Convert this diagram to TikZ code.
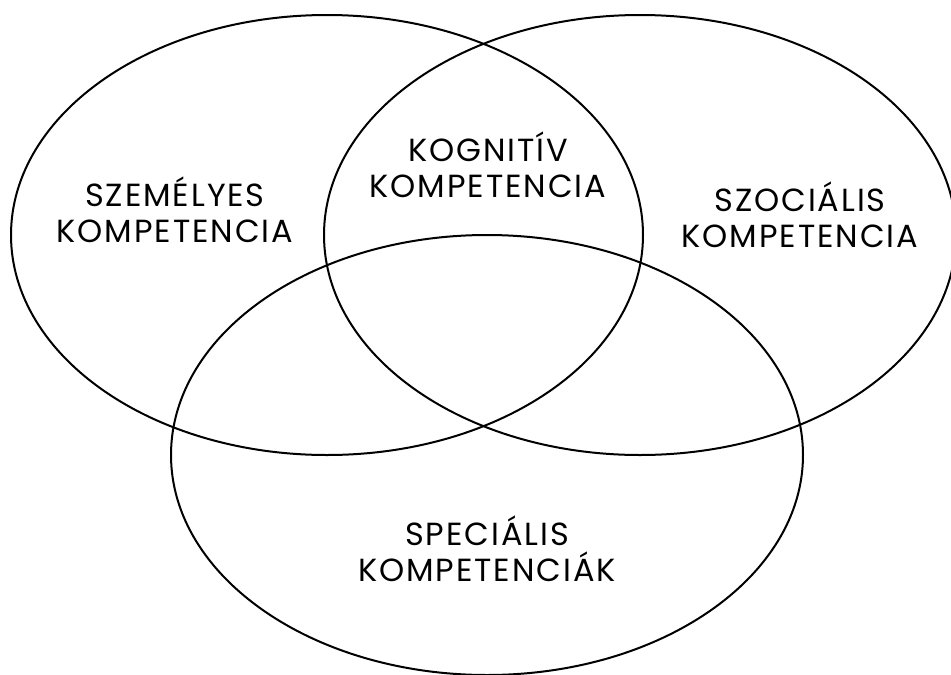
\documentclass[tikz,border=0pt]{standalone}
\usepackage{fontspec}
\setmainfont{Poppins}[LetterSpace=6]
\usetikzlibrary{shapes.geometric}

\begin{document}
\begin{tikzpicture}[x=1pt,y=-1pt,
	set/.style={ellipse,draw,line width=2pt,minimum width=632pt,minimum height=440pt,inner sep=0pt},
	settext/.style={align=center,inner sep=0pt,font=\fontsize{32}{36}\selectfont}]
	\useasboundingbox (0,0) rectangle (951,675);

	\node[set] (szem) at (327,235) {};
	\node[set] (szoc) at (640,235) {};
	\node[set] (spec) at (487,455) {};

	\node[settext] (szem_t) at (175,210) {SZEMÉLYES\\KOMPETENCIA};
	\node[settext] (kogn_t) at (488,165) {KOGNITÍV\\KOMPETENCIA};
	\node[settext] (szoc_t) at (800,215) {SZOCIÁLIS\\KOMPETENCIA};
	\node[settext] (spec_t) at (487,549) {SPECIÁLIS\\KOMPETENCIÁK};

\end{tikzpicture}
\end{document}
